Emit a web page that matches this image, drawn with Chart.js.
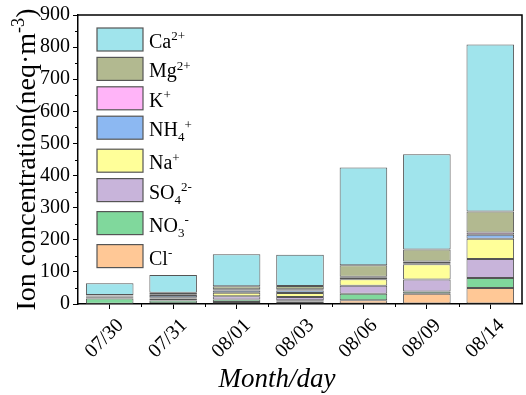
<!DOCTYPE html>
<html>
<head>
<meta charset="utf-8">
<script src="https://cdn.jsdelivr.net/npm/chart.js@4"></script>
<style>
  body { margin: 0; background: #fff; }
  canvas { display: block; }
</style>
</head>
<body>
<canvas id="chart" width="526" height="395"></canvas>
<script>
// sampling days
const days = ['07/30', '07/31', '08/01', '08/03', '08/06', '08/09', '08/14'];

// ion concentrations, neq/m3 (stacked bottom to top)
const cl  = [1, 2, 6, 8, 12, 32, 50];
const no3 = [16, 9, 8, 4, 20, 7, 31];
const so4 = [4, 6, 10, 10, 25, 37, 59];
const na  = [2, 4, 11, 12, 20, 48, 63];
const nh4 = [3, 7, 7, 8, 5, 3, 13];
const k   = [1, 2, 4, 4, 3, 5, 7];
const mg  = [1, 5, 9, 10, 36, 38, 65];
const ca  = [37, 55, 100, 97, 304, 296, 520];

const yTicks = [0, 100, 200, 300, 400, 500, 600, 700, 800, 900];

// legend labels: [text, 0 normal / 1 sup / -1 sub]
const series = [
  { data: cl,  color: '#ffc896', label: [['Cl', 0], ['-', 1]] },
  { data: no3, color: '#80d89c', label: [['NO', 0], ['3', -1], ['-', 1]] },
  { data: so4, color: '#c8b4da', label: [['SO', 0], ['4', -1], ['2-', 1]] },
  { data: na,  color: '#ffff99', label: [['Na', 0], ['+', 1]] },
  { data: nh4, color: '#8cb8f2', label: [['NH', 0], ['4', -1], ['+', 1]] },
  { data: k,   color: '#ffb4f8', label: [['K', 0], ['+', 1]] },
  { data: mg,  color: '#b2b990', label: [['Mg', 0], ['2+', 1]] },
  { data: ca,  color: '#a0e4ec', label: [['Ca', 0], ['2+', 1]] }
];

const serif = "'Liberation Serif', 'Times New Roman', serif";

function drawRich(ctx, parts, x, y, size) {
  parts.forEach(p => {
    const s = p[1] === 0 ? size : size * 0.65;
    const dy = p[1] === 1 ? -size * 0.38 : (p[1] === -1 ? size * 0.25 : 0);
    ctx.font = s + 'px ' + serif;
    ctx.fillText(p[0], x, y + dy);
    x += ctx.measureText(p[0]).width;
  });
}

const extras = {
  id: 'extras',
  afterDraw(chart) {
    const ctx = chart.ctx;
    const a = chart.chartArea;
    const xs = chart.scales.x, ys = chart.scales.y;
    ctx.save();
    ctx.strokeStyle = '#000';
    ctx.lineWidth = 1.5;
    // frame top / right
    ctx.beginPath();
    ctx.moveTo(a.left, a.top);
    ctx.lineTo(a.right, a.top);
    ctx.lineTo(a.right, a.bottom);
    ctx.stroke();
    // minor ticks
    ctx.lineWidth = 1;
    ctx.beginPath();
    for (let v = 50; v < 900; v += 100) {
      const py = Math.round(ys.getPixelForValue(v)) + 0.5;
      ctx.moveTo(a.left - 3, py);
      ctx.lineTo(a.left, py);
    }
    for (let i = 0; i < days.length - 1; i++) {
      const px = Math.round((xs.getPixelForValue(i) + xs.getPixelForValue(i + 1)) / 2) + 0.5;
      ctx.moveTo(px, a.bottom);
      ctx.lineTo(px, a.bottom + 3);
    }
    ctx.stroke();

    // legend (top to bottom = reverse stack order)
    let top = a.top + 13;
    const bx = a.left + 19;
    series.slice().reverse().forEach(s => {
      ctx.fillStyle = s.color;
      ctx.fillRect(bx, top, 46, 23);
      ctx.strokeStyle = '#555';
      ctx.lineWidth = 1.2;
      ctx.strokeRect(bx, top, 46, 23);
      ctx.fillStyle = '#000';
      ctx.textBaseline = 'alphabetic';
      drawRich(ctx, s.label, bx + 52, top + 20, 20);
      const hasSub = s.label.some(p => p[1] === -1);
      top += 29.4 + (hasSub ? 3.6 : 0);
    });

    // axis titles
    ctx.fillStyle = '#000';
    ctx.save();
    ctx.translate(35, (a.top + a.bottom) / 2);
    ctx.rotate(-Math.PI / 2);
    const yt = [['Ion concentration(neq·m', 0], ['-3', 1], [')', 0]];
    let w = 0;
    yt.forEach(p => {
      ctx.font = (p[1] ? 28 * 0.65 : 28) + 'px ' + serif;
      w += ctx.measureText(p[0]).width;
    });
    drawRich(ctx, yt, -w / 2, 0, 28);
    ctx.restore();

    ctx.font = 'italic 27px ' + serif;
    ctx.textAlign = 'center';
    ctx.fillText('Month/day', (a.left + a.right) / 2 - 23, 387);
    ctx.restore();
  }
};

new Chart(document.getElementById('chart'), {
  type: 'bar',
  data: {
    labels: days,
    datasets: series.map(s => ({
      data: s.data,
      backgroundColor: s.color,
      borderColor: '#555',
      borderWidth: 1,
      borderSkipped: false,
      barPercentage: 0.75,
      categoryPercentage: 1
    }))
  },
  options: {
    responsive: false,
    animation: false,
    layout: { padding: { left: 0, top: 9, right: 4, bottom: 0 } },
    plugins: { legend: { display: false }, tooltip: { enabled: false } },
    scales: {
      x: {
        stacked: true,
        grid: { drawOnChartArea: false, tickLength: 5, color: '#000', offset: false },
        border: { color: '#000', width: 1.5 },
        ticks: {
          color: '#000',
          font: { family: serif, size: 20 },
          minRotation: 45,
          maxRotation: 45,
          autoSkip: false,
          padding: 5,
          labelOffset: 11
        },
        afterFit(scale) { scale.height = 91; }
      },
      y: {
        stacked: true,
        min: 0,
        max: 900,
        afterBuildTicks(scale) { scale.ticks = yTicks.map(v => ({ value: v })); },
        grid: { drawOnChartArea: false, tickLength: 5, color: '#000' },
        border: { color: '#000', width: 1.5 },
        ticks: {
          color: '#000',
          font: { family: serif, size: 20 },
          padding: 3
        },
        afterFit(scale) { scale.width = 78; }
      }
    }
  },
  plugins: [extras]
});
</script>
</body>
</html>
